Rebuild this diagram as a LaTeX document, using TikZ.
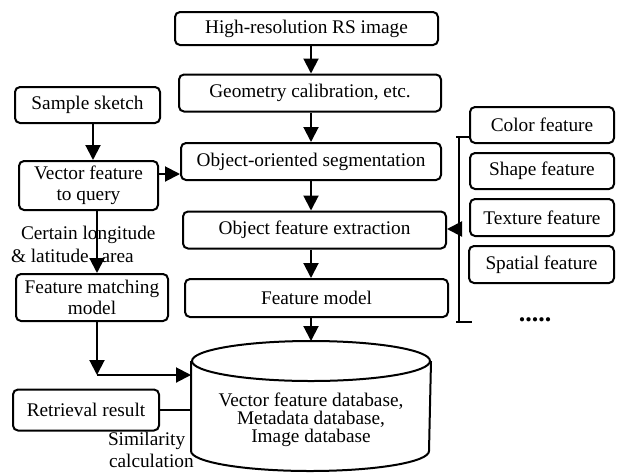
\documentclass[tikz,border=0pt]{standalone}
\usepackage{fontspec}
\setmainfont{Liberation Serif}
\usepackage{tikz}
\usetikzlibrary{positioning, arrows.meta}

\begin{document}
\begin{tikzpicture}[x=1pt, y=-1pt, line width=2pt,
  font=\fontsize{19.3}{21}\selectfont,
  box/.style={draw, rounded corners=5pt, align=center, inner sep=0pt},
  lbl/.style={align=left, inner sep=0pt},
  arr/.style={-{Triangle[width=15pt, length=15pt]}}]
  \useasboundingbox (0,0) rectangle (618,472);

  % main chain
  \node[box, minimum width=263, minimum height=33] (hires) at (306.5,28.5) {High-resolution RS image};
  \node[box, minimum width=262, minimum height=37] (geom) at (310,93) {Geometry calibration, etc.};
  \node[box, minimum width=260, minimum height=37] (seg) at (311,161.5) {Object-oriented segmentation};
  \node[box, minimum width=263, minimum height=37] (ofe) at (314.5,230) {Object feature extraction};
  \node[box, minimum width=263, minimum height=38] (fmodel) at (316.5,298) {Feature model};
  \draw[arr] (hires.south -| seg) -- (geom.north -| seg);
  \draw[arr] (geom.south -| seg) -- (seg.north);
  \draw[arr] (seg.south) -- (ofe.north -| seg);
  \draw[arr] (ofe.south -| seg) -- (fmodel.north -| seg);

  % database
  \node[inner sep=0pt, minimum width=238, minimum height=88] (db) at (311,406) {};
  \draw (db.north) ellipse [x radius=119pt, y radius=20pt];
  \draw (db.north west) -- (db.south west) arc[start angle=180, end angle=360, x radius=119pt, y radius=20pt] -- (db.north east);
  \node[align=center, inner sep=0pt, font=\fontsize{19.3}{18}\selectfont] (dbtext) at (311,420) {Vector feature database,\\Metadata database,\\Image database};
  \draw[arr] (fmodel.south -| seg) -- ([yshift=1pt]db.north |- 0,342);

  % query side
  \node[box, minimum width=145, minimum height=36] (sketch) at (87.5,105) {Sample sketch};
  \node[box, minimum width=139, minimum height=49] (vfq) at (88.5,185.5) {Vector feature\\ to query};
  \node[box, minimum width=152, minimum height=47] (fmm) at (92,297.5) {Feature matching\\model};
  \node[box, minimum width=146, minimum height=41] (rr) at (86,410) {Retrieval result};
  \draw[arr] ([xshift=5.5pt]sketch.south) -- ([xshift=5.5pt]sketch.south |- vfq.north);
  \draw[arr] ([yshift=11.5pt]vfq.east) -- ([yshift=11.5pt]vfq.east -| seg.west);
  \draw[arr] ([xshift=8.5pt]vfq.south) -- ([xshift=8.5pt]vfq.south |- fmm.north);
  \node[lbl, font=\fontsize{19.3}{23}\selectfont, anchor=west] (area) at (10,244) {\hspace*{10pt}Certain longitude\\\& latitude\hspace{8pt} area};
  \coordinate (join) at (97,375);
  \draw[arr] ([xshift=5pt]fmm.south) -- (join);
  \draw[arr] (join) -- (join -| db.west);
  \draw (rr.east) -- (rr.east -| db.west);
  \node[lbl, font=\fontsize{19.3}{22}\selectfont, anchor=west] (simcalc) at (107,450) {Similarity\\\hspace*{1pt}calculation};

  % feature types
  \node[box, minimum width=144, minimum height=36] (color) at (542,125) {Color feature};
  \node[box, minimum width=144, minimum height=36] (shape) at (542,171) {Shape feature};
  \node[box, minimum width=144, minimum height=37] (texture) at (542,217.5) {Texture feature};
  \node[box, minimum width=145, minimum height=37] (spatial) at (541.5,264.5) {Spatial feature};
  \node[inner sep=0pt, font=\fontsize{26}{26}\selectfont\bfseries] (more) at (535,320) {.....};
  \coordinate (btop) at (459,137);
  \coordinate (bbot) at (459,322);
  \coordinate (bmid) at (459,229);
  \draw ([xshift=-3pt]btop) -- (btop -| color.west);
  \draw (btop) -- (bbot);
  \draw ([xshift=-3pt]bbot) -- ([xshift=13pt]bbot);
  \draw[arr] (bmid) -- (bmid -| ofe.east);
\end{tikzpicture}
\end{document}
